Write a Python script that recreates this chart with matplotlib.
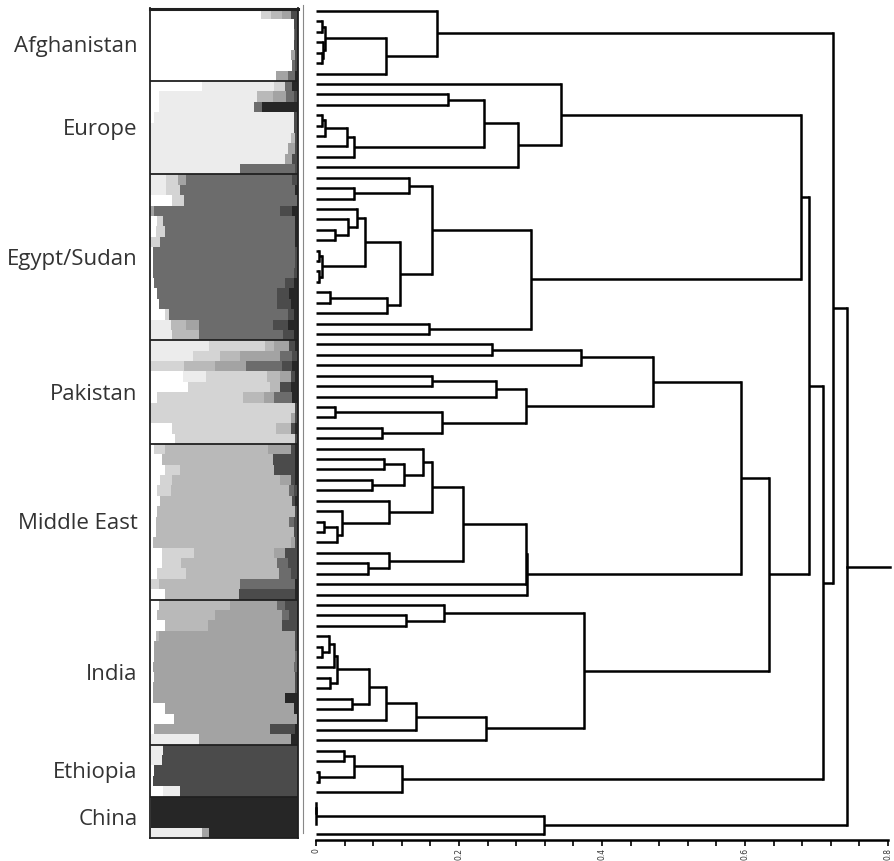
import numpy as np
import matplotlib.pyplot as plt

# population blocks (top to bottom) and number of individuals in each
populations = ['Afghanistan', 'Europe', 'Egypt/Sudan', 'Pakistan',
               'Middle East', 'India', 'Ethiopia', 'China']
pop_sizes = [7, 9, 16, 10, 15, 14, 5, 4]

# grey shade of each ancestry cluster (light to dark = stacking order)
cluster_colors = ['#ffffff', '#ececec', '#d4d4d4', '#b9b9b9',
                  '#a3a3a3', '#6c6c6c', '#4b4b4b', '#262626']

# membership fractions per individual (8 clusters)
afghanistan_q = [
    [0.75, 0, 0.07, 0.07, 0.06, 0, 0.04, 0.01],
    [0.97, 0, 0, 0, 0, 0, 0.02, 0.01],
    [0.97, 0, 0, 0, 0, 0.01, 0.01, 0.01],
    [0.97, 0, 0, 0, 0, 0, 0.02, 0.01],
    [0.95, 0, 0, 0, 0.03, 0, 0.01, 0.01],
    [0.96, 0, 0, 0, 0, 0.02, 0.01, 0.01],
    [0.85, 0, 0, 0, 0.08, 0.05, 0, 0.02],
]
europe_q = [
    [0.35, 0.49, 0.07, 0, 0, 0.05, 0, 0.04],
    [0.06, 0.66, 0, 0.11, 0.09, 0.05, 0.03, 0],
    [0.06, 0.64, 0, 0, 0, 0.06, 0, 0.24],
    [0.03, 0.94, 0, 0, 0, 0, 0.02, 0.01],
    [0, 0.97, 0, 0, 0, 0, 0.02, 0.01],
    [0, 0.95, 0, 0.03, 0, 0, 0.01, 0.01],
    [0, 0.93, 0, 0, 0.05, 0, 0.02, 0],
    [0, 0.91, 0, 0, 0.05, 0, 0.04, 0],
    [0, 0.61, 0, 0, 0, 0.37, 0.02, 0],
]
egypt_q = [
    [0, 0.11, 0.08, 0, 0.05, 0.72, 0.04, 0],
    [0, 0.11, 0.09, 0, 0, 0.78, 0, 0.02],
    [0.15, 0, 0.08, 0, 0, 0.77, 0, 0],
    [0, 0, 0, 0, 0.03, 0.85, 0.08, 0.04],
    [0.05, 0, 0.04, 0, 0, 0.89, 0, 0.02],
    [0.04, 0, 0.06, 0, 0, 0.88, 0, 0.02],
    [0, 0, 0.07, 0, 0, 0.91, 0, 0.02],
    [0.02, 0, 0, 0, 0, 0.96, 0.01, 0.01],
    [0.02, 0, 0, 0, 0, 0.96, 0.01, 0.01],
    [0.02, 0, 0, 0, 0, 0.95, 0.02, 0.01],
    [0.03, 0, 0, 0, 0, 0.88, 0.06, 0.03],
    [0.05, 0, 0, 0, 0, 0.81, 0.08, 0.06],
    [0.06, 0, 0, 0, 0, 0.80, 0.09, 0.05],
    [0.10, 0, 0.03, 0, 0, 0.80, 0.04, 0.03],
    [0, 0.14, 0, 0.10, 0.09, 0.50, 0.10, 0.07],
    [0, 0.15, 0, 0.18, 0, 0.57, 0.07, 0.03],
]
pakistan_q = [
    [0, 0.40, 0.38, 0.06, 0.10, 0, 0.04, 0.02],
    [0, 0.29, 0.18, 0.14, 0.27, 0.08, 0.04, 0],
    [0, 0, 0.23, 0.21, 0.21, 0.24, 0.07, 0.04],
    [0.22, 0.16, 0.41, 0.09, 0.07, 0, 0.03, 0.02],
    [0.26, 0, 0.55, 0.07, 0, 0, 0.07, 0.05],
    [0.05, 0, 0.58, 0.14, 0.07, 0.12, 0, 0.04],
    [0, 0, 0.98, 0, 0, 0, 0.01, 0.01],
    [0, 0, 0.95, 0, 0.03, 0, 0.01, 0.01],
    [0.15, 0, 0.70, 0.10, 0, 0, 0.03, 0.02],
    [0.17, 0, 0.81, 0, 0, 0, 0.01, 0.01],
]
middle_east_q = [
    [0.03, 0, 0.07, 0.70, 0.15, 0, 0.03, 0.02],
    [0.08, 0, 0, 0.75, 0, 0, 0.15, 0.02],
    [0.10, 0, 0.10, 0.64, 0, 0, 0.14, 0.02],
    [0.07, 0, 0.08, 0.73, 0.07, 0, 0.03, 0.02],
    [0.05, 0, 0.09, 0.80, 0, 0.03, 0.02, 0.01],
    [0.07, 0, 0, 0.89, 0, 0, 0.02, 0.02],
    [0.05, 0, 0, 0.93, 0, 0, 0.01, 0.01],
    [0.04, 0, 0, 0.90, 0, 0.03, 0.02, 0.01],
    [0.04, 0, 0, 0.93, 0, 0, 0.02, 0.01],
    [0.02, 0, 0, 0.93, 0.03, 0, 0.01, 0.01],
    [0.08, 0, 0.22, 0.54, 0.07, 0, 0.09, 0],
    [0.08, 0, 0.13, 0.65, 0, 0.07, 0.07, 0],
    [0.05, 0, 0.19, 0.63, 0, 0.08, 0.05, 0],
    [0.01, 0, 0.05, 0.55, 0, 0.37, 0, 0.02],
    [0.10, 0, 0, 0.50, 0, 0, 0.38, 0.02],
]
india_q = [
    [0.06, 0, 0, 0.48, 0.32, 0.05, 0.08, 0.01],
    [0.05, 0, 0, 0.39, 0.45, 0.05, 0.05, 0.01],
    [0.10, 0, 0, 0.29, 0.50, 0, 0.10, 0.01],
    [0.04, 0, 0, 0.02, 0.92, 0, 0.01, 0.01],
    [0.03, 0, 0, 0, 0.95, 0, 0.01, 0.01],
    [0.03, 0, 0, 0, 0.95, 0.01, 0.01, 0],
    [0.02, 0, 0, 0, 0.95, 0.02, 0.01, 0],
    [0.03, 0, 0, 0, 0.95, 0, 0.01, 0.01],
    [0.02, 0, 0, 0, 0.96, 0, 0.01, 0.01],
    [0.02, 0, 0, 0, 0.89, 0, 0, 0.09],
    [0.10, 0, 0, 0, 0.87, 0, 0, 0.03],
    [0.16, 0, 0, 0, 0.83, 0, 0, 0.01],
    [0.03, 0, 0, 0, 0.78, 0, 0.17, 0.02],
    [0, 0.33, 0, 0, 0.62, 0, 0, 0.05],
]
ethiopia_q = [
    [0, 0.09, 0, 0, 0, 0, 0.91, 0],
    [0, 0.08, 0, 0, 0, 0, 0.92, 0],
    [0.03, 0, 0, 0, 0, 0, 0.97, 0],
    [0.02, 0, 0, 0, 0, 0, 0.98, 0],
    [0.09, 0.11, 0, 0, 0, 0, 0.80, 0],
]
china_q = [
    [0.01, 0, 0, 0, 0, 0, 0, 0.99],
    [0.01, 0, 0, 0, 0, 0, 0, 0.99],
    [0.01, 0, 0, 0, 0, 0, 0, 0.99],
    [0, 0.35, 0, 0, 0.05, 0, 0, 0.60],
]

# dendrogram merges: (child a, child b, height); ids >= 80 are earlier merges
merges = [
    (1, 2, 0.008), (4, 5, 0.008), (3, 81, 0.010), (80, 82, 0.013),
    (83, 6, 0.098), (0, 84, 0.169),
    (8, 9, 0.185), (10, 11, 0.008), (87, 12, 0.013), (88, 13, 0.043),
    (89, 14, 0.053), (86, 90, 0.235), (91, 15, 0.283), (7, 92, 0.343),
    (17, 18, 0.053), (16, 94, 0.130), (21, 22, 0.027), (20, 96, 0.045),
    (19, 97, 0.057), (23, 24, 0.004), (25, 26, 0.004), (99, 100, 0.008),
    (98, 101, 0.069), (27, 28, 0.020), (103, 29, 0.099), (102, 104, 0.118),
    (95, 105, 0.162), (30, 31, 0.158), (106, 107, 0.301),
    (93, 108, 0.679),
    (32, 33, 0.246), (110, 34, 0.371), (35, 36, 0.162), (112, 37, 0.252),
    (38, 39, 0.027), (40, 41, 0.092), (114, 115, 0.176), (113, 116, 0.293),
    (111, 117, 0.471),
    (43, 44, 0.095), (45, 46, 0.078), (119, 120, 0.123), (42, 121, 0.150),
    (49, 50, 0.011), (123, 51, 0.030), (48, 124, 0.036), (47, 125, 0.102),
    (122, 126, 0.162), (53, 54, 0.073), (52, 128, 0.102), (127, 129, 0.206),
    (130, 55, 0.293), (131, 56, 0.295),
    (118, 132, 0.595),
    (58, 59, 0.126), (57, 134, 0.179), (61, 62, 0.008), (60, 136, 0.018),
    (137, 63, 0.025), (64, 65, 0.020), (138, 139, 0.030), (66, 67, 0.050),
    (140, 141, 0.074), (142, 68, 0.098), (143, 69, 0.140), (144, 70, 0.238),
    (135, 145, 0.375),
    (133, 146, 0.633), (109, 147, 0.689),
    (71, 72, 0.039), (73, 74, 0.004), (149, 150, 0.053), (151, 75, 0.120),
    (148, 152, 0.709), (85, 153, 0.723),
    (76, 77, 0.0), (155, 78, 0.0), (156, 79, 0.319),
    (154, 157, 0.742),
]
root_stub_end = 0.803

tick_values = [0, 0.2, 0.4, 0.6, 0.8]
tick_labels = ['0', '0.2', '0.4', '0.6', '0.8']

all_q = np.array(afghanistan_q + europe_q + egypt_q + pakistan_q +
                 middle_east_q + india_q + ethiopia_q + china_q, dtype=float)
all_q = all_q / all_q.sum(axis=1, keepdims=True)
n_ind = len(all_q)
rows = np.arange(n_ind)

fig = plt.figure(figsize=(8.94, 8.61), dpi=100)

# ---- structure bar panel ----
ax_bar = fig.add_axes([150 / 894, 1 - 838 / 861, 148 / 894, 829.5 / 861])
left = np.zeros(n_ind)
for k, col in enumerate(cluster_colors):
    ax_bar.barh(rows, all_q[:, k], left=left, height=1.0, color=col,
                edgecolor='none', linewidth=0)
    left += all_q[:, k]
ax_bar.set_xlim(0, 1)
ax_bar.set_ylim(n_ind - 0.5, -0.5)
ax_bar.set_xticks([])
ax_bar.set_yticks([])
for sp in ax_bar.spines.values():
    sp.set_linewidth(1.3)
    sp.set_color('#202020')
ax_bar.spines['top'].set_linewidth(2.2)

bounds = np.cumsum(pop_sizes)
starts = bounds - np.array(pop_sizes)
for b in bounds[:-1]:
    ax_bar.axhline(b - 0.5, color='#202020', lw=1.3)
for name, s, n in zip(populations, starts, pop_sizes):
    ax_bar.text(-0.085, s + (n - 1) / 2 + 0.2, name,
                transform=ax_bar.get_yaxis_transform(),
                ha='right', va='center', fontsize=16, family='Open Sans',
                color='#333333')

# ---- dendrogram panel ----
ax_d = fig.add_axes([303 / 894, 1 - 840 / 861, 590 / 894, 835 / 861])
node_y = {i: float(i) for i in range(n_ind)}
node_h = {i: 0.0 for i in range(n_ind)}
lw = 1.8
for k, (a, b, h) in enumerate(merges):
    nid = n_ind + k
    for c in (a, b):
        ax_d.plot([node_h[c], h], [node_y[c], node_y[c]], color='black', lw=lw,
                  solid_capstyle='butt')
    ax_d.plot([h, h], [node_y[a], node_y[b]], color='black', lw=lw,
              solid_capstyle='projecting')
    node_y[nid] = (node_y[a] + node_y[b]) / 2
    node_h[nid] = h
root = n_ind + len(merges) - 1
ax_d.plot([node_h[root], root_stub_end], [node_y[root], node_y[root]],
          color='black', lw=lw, clip_on=False)

ax_d.set_xlim(-0.0182, 0.807)
ax_d.set_ylim(79.56, -0.576)
ax_d.set_yticks([])
ax_d.set_xticks(tick_values)
ax_d.set_xticklabels(tick_labels, rotation=90, fontsize=5.5, color='#333333')
ax_d.set_xticks(np.arange(0, 0.801, 0.04), minor=True)
ax_d.tick_params(axis='x', which='both', length=4, width=1.2, direction='out', pad=2)
ax_d.spines['top'].set_visible(False)
ax_d.spines['right'].set_visible(False)
ax_d.spines['bottom'].set_bounds(0, 0.8)
ax_d.spines['bottom'].set_linewidth(1.8)
ax_d.spines['left'].set_bounds(-0.576, 78.9)
ax_d.spines['left'].set_linewidth(0.8)
ax_d.spines['left'].set_color('#888888')
ax_d.patch.set_alpha(0)

fig.savefig('out.png', dpi=100)
